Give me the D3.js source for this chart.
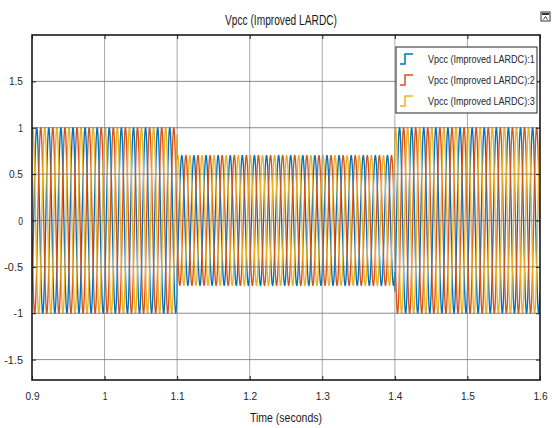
<!DOCTYPE html>
<html>
<head>
<meta charset="utf-8">
<script src="https://cdn.jsdelivr.net/npm/d3@7"></script>
<style>
  html, body { margin: 0; padding: 0; background: #fff; }
  svg { display: block; font-family: "Liberation Sans", Arial, sans-serif; }
</style>
</head>
<body>
<svg id="chart" width="552" height="428"></svg>
<script>
// Three-phase PCC voltage (per unit) seen on the scope, 60 Hz supply.
const phaseNames = ["Vpcc (Improved LARDC):1", "Vpcc (Improved LARDC):2", "Vpcc (Improved LARDC):3"];
const phaseShiftsDeg = [0, -120, 120];
const supplyFrequencyHz = [60];
const startPhaseDeg = [-50];
// Voltage envelope: sag to 0.7 pu between 1.1 s and 1.4 s.
const segmentStart = [0.9, 1.1, 1.4];
const segmentEnd = [1.1, 1.4, 1.6];
const segmentAmplitude = [1.0, 0.7, 1.0];
const sampleStep = [0.0001];

const xTicks = [0.9, 1.0, 1.1, 1.2, 1.3, 1.4, 1.5, 1.6];
const xTickLabels = ["0.9", "1", "1.1", "1.2", "1.3", "1.4", "1.5", "1.6"];
const yTicks = [-1.5, -1, -0.5, 0, 0.5, 1, 1.5];
const yTickLabels = ["-1.5", "-1", "-0.5", "0", "0.5", "1", "1.5"];
const colors = ["#0072BD", "#D95319", "#EDB120"];

const svg = d3.select("#chart");
const margin = { left: 32, right: 12, top: 35, bottom: 48 };
const W = 552, H = 428;
const x = d3.scaleLinear().domain([0.9, 1.6]).range([margin.left, W - margin.right]);
const y = d3.scaleLinear().domain([-1.72, 2.0]).range([H - margin.bottom, margin.top]);

// Build the sampled waveforms from the envelope segments
function amplitudeAt(t) {
  for (let i = 0; i < segmentStart.length; i++) {
    if (t >= segmentStart[i] && t < segmentEnd[i]) return segmentAmplitude[i];
  }
  return segmentAmplitude[segmentAmplitude.length - 1];
}
const times = d3.range(0.9, 1.6 + sampleStep[0] / 2, sampleStep[0]);
const w = 2 * Math.PI * supplyFrequencyHz[0];
const series = phaseShiftsDeg.map((deg, k) => times.map(t => ({
  t,
  v: amplitudeAt(t) * Math.sin(w * (t - 0.9) + (startPhaseDeg[0] + deg) * Math.PI / 180)
})));

svg.append("defs").append("clipPath").attr("id", "plotClip")
  .append("rect")
  .attr("x", margin.left).attr("y", margin.top)
  .attr("width", W - margin.left - margin.right)
  .attr("height", H - margin.top - margin.bottom);

// Waveforms
const line = d3.line().x(d => x(d.t)).y(d => y(d.v));
const waves = svg.append("g").attr("clip-path", "url(#plotClip)");
series.forEach((s, k) => {
  waves.append("path")
    .datum(s)
    .attr("fill", "none")
    .attr("stroke", colors[k])
    .attr("stroke-width", 1.35)
    .attr("d", line);
});

// Grid
const grid = svg.append("g");
grid.selectAll("line.vg").data(xTicks.slice(1, -1)).join("line")
  .attr("x1", d => x(d)).attr("x2", d => x(d))
  .attr("y1", margin.top).attr("y2", H - margin.bottom)
  .attr("stroke", "#8c8c8c").attr("stroke-opacity", 0.75).attr("stroke-width", 1);
grid.selectAll("line.hg").data(yTicks).join("line")
  .attr("x1", margin.left).attr("x2", W - margin.right)
  .attr("y1", d => y(d)).attr("y2", d => y(d))
  .attr("stroke", "#6e6e6e").attr("stroke-opacity", 0.8).attr("stroke-width", 1);

// Axes (ticks inward)
const xAxis = d3.axisBottom(x).tickValues(xTicks).tickFormat((d, i) => xTickLabels[i])
  .tickSizeInner(-4).tickSizeOuter(0).tickPadding(12);
const gx = svg.append("g").attr("transform", `translate(0,${H - margin.bottom})`).call(xAxis);
const yAxis = d3.axisLeft(y).tickValues(yTicks).tickFormat((d, i) => yTickLabels[i])
  .tickSizeInner(-4).tickSizeOuter(0).tickPadding(9);
const gy = svg.append("g").attr("transform", `translate(${margin.left},0)`).call(yAxis);
const yAxisR = d3.axisRight(y).tickValues(yTicks).tickFormat("").tickSizeInner(-4).tickSizeOuter(0);
const gyr = svg.append("g").attr("transform", `translate(${W - margin.right},0)`).call(yAxisR);
const xAxisT = d3.axisTop(x).tickValues(xTicks).tickFormat("").tickSizeInner(-4).tickSizeOuter(0);
const gxt = svg.append("g").attr("transform", `translate(0,${margin.top})`).call(xAxisT);
[gx, gy, gyr, gxt].forEach(g => {
  g.select(".domain").remove();
  g.selectAll(".tick line").attr("stroke", "#222").attr("stroke-width", 1);
  g.selectAll(".tick text").attr("fill", "#262626").attr("font-size", 11)
    .attr("transform", null);
});
gx.selectAll(".tick text").each(function () {
  const t = d3.select(this);
  const n = t.text().length;
  t.attr("textLength", n * 4.7).attr("lengthAdjust", "spacingAndGlyphs");
});
gy.selectAll(".tick text").each(function () {
  const t = d3.select(this);
  const n = t.text().length;
  t.attr("textLength", n * 4.7).attr("lengthAdjust", "spacingAndGlyphs");
});

// Plot frame
svg.append("rect")
  .attr("x", margin.left).attr("y", margin.top)
  .attr("width", W - margin.left - margin.right)
  .attr("height", H - margin.top - margin.bottom)
  .attr("fill", "none").attr("stroke", "#1a1a1a").attr("stroke-width", 1.6);

// Title and axis label
svg.append("text")
  .attr("x", (margin.left + W - margin.right) / 2 - 5).attr("y", 25)
  .attr("text-anchor", "middle").attr("font-size", 14).attr("fill", "#1a1a1a")
  .attr("textLength", 112).attr("lengthAdjust", "spacingAndGlyphs")
  .text("Vpcc (Improved LARDC)");
svg.append("text")
  .attr("x", (margin.left + W - margin.right) / 2).attr("y", 422)
  .attr("text-anchor", "middle").attr("font-size", 13).attr("fill", "#1a1a1a")
  .attr("textLength", 72).attr("lengthAdjust", "spacingAndGlyphs")
  .text("Time (seconds)");

// Legend (condensed labels via horizontal scale)
const lg = svg.append("g").attr("transform", "translate(396,47)");
lg.append("rect").attr("width", 141).attr("height", 66)
  .attr("fill", "#fff").attr("stroke", "#262626").attr("stroke-width", 1);
phaseNames.forEach((name, i) => {
  const cy = 12 + i * 21;
  lg.append("path")
    .attr("d", `M4,${cy + 5} H9 V${cy - 5} H17`)
    .attr("fill", "none").attr("stroke", colors[i]).attr("stroke-width", 1.5);
  lg.append("g")
    .attr("transform", `translate(32,${cy + 4}) scale(0.82,1)`)
    .append("text")
    .attr("x", 0).attr("y", 0)
    .attr("font-size", 11).attr("fill", "#262626")
    .text(name);
});

// Scope restore button
const btn = svg.append("g").attr("transform", "translate(541,12)");
btn.append("rect").attr("width", 9).attr("height", 9).attr("fill", "#fff")
  .attr("stroke", "#333").attr("stroke-width", 1);
btn.append("rect").attr("x", 1).attr("y", 1).attr("width", 7).attr("height", 2).attr("fill", "#333");
btn.append("path").attr("d", "M2.5,7.5 L4.5,4.5 L6.5,7.5").attr("fill", "none")
  .attr("stroke", "#333").attr("stroke-width", 1);
</script>
</body>
</html>
